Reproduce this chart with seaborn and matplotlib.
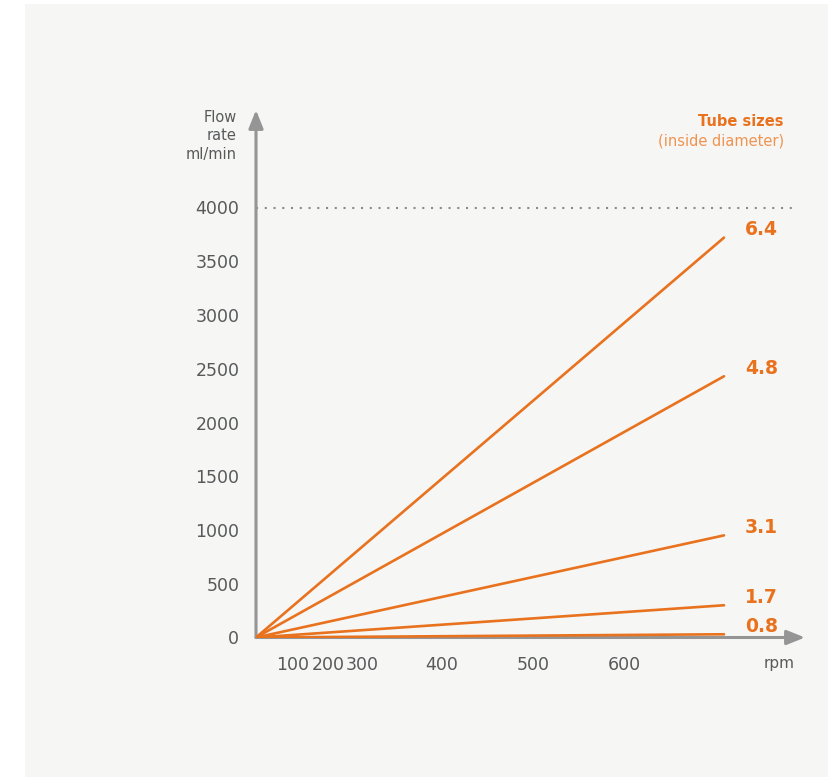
import numpy as np
import pandas as pd
import seaborn as sns
import matplotlib.pyplot as plt
from matplotlib.patches import Rectangle

# tube inside diameters (mm) and flow rate at top speed (ml/min)
tube_sizes = ["0.8", "1.7", "3.1", "4.8", "6.4"]
flow_at_max = [30, 300, 950, 2430, 3720]

# the rpm axis of the original is not linear, so x is kept as axis position
x_end = 468
rpm_tick_pos = [37, 72, 106, 186, 277, 368]
rpm_tick_labels = ["100", "200", "300", "400", "500", "600"]
flow_ticks = list(range(0, 4001, 500))
max_line = 4000

ORANGE = "#e8721e"
LIGHT_ORANGE = "#ef9350"
GREY = "#959595"
TEXT = "#58595b"

rows = []
for size, flow in zip(tube_sizes, flow_at_max):
    rows.append({"tube": size, "x": 0, "flow": 0})
    rows.append({"tube": size, "x": x_end, "flow": flow})
df = pd.DataFrame(rows)

sns.set_theme(style="white")
plt.rcParams["font.family"] = ["DejaVu Sans"]

fig = plt.figure(figsize=(8.29, 7.79), dpi=100)
fig.patch.set_facecolor("white")
fig.patches.append(Rectangle((25 / 829, 2 / 779), 1 - 25 / 829, 773 / 779,
                             transform=fig.transFigure, facecolor="#f6f6f5",
                             edgecolor="none", zorder=-5))

ax = fig.add_axes([256 / 829, 141.5 / 779, 549 / 829, 527.5 / 779])
ax.set_facecolor("none")
ax.set_zorder(2)

sns.lineplot(data=df, x="x", y="flow", hue="tube", palette=[ORANGE] * len(tube_sizes),
             legend=False, lw=1.9, ax=ax, zorder=3)

ax.set_xlim(0, 549)
ax.set_ylim(0, 527.5 / 0.1075)

for s in ax.spines.values():
    s.set_visible(False)

# axes with arrow heads
arrow = dict(arrowstyle="-|>,head_length=0.55,head_width=0.22", color=GREY, lw=2.2,
             mutation_scale=20, shrinkA=0, shrinkB=0)
ax.annotate("", xy=(1, 0), xytext=(0, 0), xycoords="axes fraction", arrowprops=arrow, zorder=2)
ax.annotate("", xy=(0, 1), xytext=(0, 0), xycoords="axes fraction", arrowprops=arrow, zorder=2)

ax.axhline(max_line, xmin=0, xmax=541 / 549, color="#8a8a8a", lw=1.5,
           linestyle=(0, (1, 3.2)), zorder=1)

ax.set_xticks(rpm_tick_pos, rpm_tick_labels)
ax.set_yticks(flow_ticks, [str(v) for v in flow_ticks])
ax.tick_params(axis="x", length=0, pad=13, labelsize=12.5, labelcolor=TEXT)
ax.tick_params(axis="y", length=0, pad=12, labelsize=12.5, labelcolor=TEXT)
ax.set_xlabel("")
ax.set_ylabel("")

ax.annotate("rpm", xy=(523, 0), xytext=(0, -18.5), textcoords="offset points",
            ha="center", va="center", fontsize=11, color=TEXT)

for size, flow in zip(tube_sizes, flow_at_max):
    ax.annotate(size, xy=(x_end, flow), xytext=(15, 5.5), textcoords="offset points",
                ha="left", va="center", fontsize=13.5, fontweight="bold", color=ORANGE)

fig.text(237 / 829, 1 - 136 / 779, "Flow\nrate\nml/min", ha="right", va="center",
         multialignment="right", fontsize=10.5, color=TEXT, linespacing=1.25)
fig.text(784 / 829, 1 - 122 / 779, "Tube sizes", ha="right", va="center",
         fontsize=10.5, fontweight="bold", color=ORANGE)
fig.text(784 / 829, 1 - 141 / 779, "(inside diameter)", ha="right", va="center",
         fontsize=10.5, color=LIGHT_ORANGE)

fig.savefig("out.png", dpi=100)
